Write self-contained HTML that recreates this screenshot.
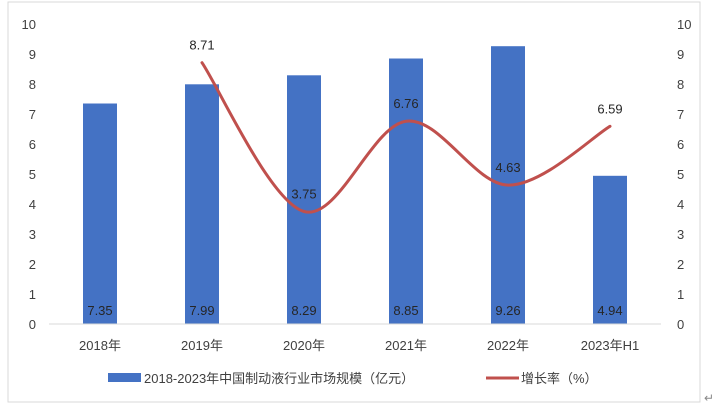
<!DOCTYPE html>
<html><head><meta charset="utf-8"><style>
body{margin:0;background:#fff;}
svg{display:block;font-family:"Liberation Sans","Noto Sans CJK SC",sans-serif;}
</style></head><body>
<svg id="chart" width="712" height="406">
<rect x="8" y="2" width="692" height="400" fill="#fff" stroke="#d9d9d9"/>
<g id="g"></g>
<text x="704" y="402" font-size="12" fill="#888">↵</text>
</svg>
<script>
const categories=["2018年","2019年","2020年","2021年","2022年","2023年H1"];
const marketSize=[7.35,7.99,8.29,8.85,9.26,4.94];
const growth=[null,8.71,3.75,6.76,4.63,6.59];
const ticks=[0,1,2,3,4,5,6,7,8,9,10];
const NS="http://www.w3.org/2000/svg";
const g=document.getElementById("g");
const x0=49,x1=661,yTop=24,yBot=324;
const bw=(x1-x0)/categories.length;
const xc=i=>x0+bw*(i+0.5);
const y=v=>yBot-(v/10)*(yBot-yTop);
function mk(t,a,txt){const e=document.createElementNS(NS,t);for(const k in a)e.setAttribute(k,a[k]);if(txt!==undefined)e.textContent=txt;g.appendChild(e);return e;}
ticks.forEach(t=>{
 let e=mk("text",{x:36,y:y(t)+5,"font-size":13,fill:"#404040","text-anchor":"end"},t);
 
 
 e=mk("text",{x:677,y:y(t)+5,"font-size":13,fill:"#404040"},t);
 
 
});
marketSize.forEach((v,i)=>{
 let e=mk("rect",{x:xc(i)-17,y:y(v),width:34,height:yBot-y(v),fill:"#4472c4"});
 
 
 e=mk("text",{x:xc(i),y:315,"font-size":13,fill:"#262626","text-anchor":"middle"},v.toFixed(2));
 
 
 e=mk("text",{x:xc(i),y:350,"font-size":13,fill:"#404040","text-anchor":"middle"},categories[i]);
 
 
});
let ax=mk("line",{x1:x0,x2:x1,y1:yBot,y2:yBot,stroke:"#d9d9d9"});


const pts=[];growth.forEach((v,i)=>{if(v!==null)pts.push([xc(i),y(v)]);});
let d="M"+pts[0][0]+","+pts[0][1];
for(let i=0;i<pts.length-1;i++){
 const p0=pts[i-1]||pts[i],p1=pts[i],p2=pts[i+1],p3=pts[i+2]||p2;
 const t=1/6;
 d+=` C${p1[0]+(p2[0]-p0[0])*t},${p1[1]+(p2[1]-p0[1])*t} ${p2[0]-(p3[0]-p1[0])*t},${p2[1]-(p3[1]-p1[1])*t} ${p2[0]},${p2[1]}`;
}
let ln=mk("path",{d:d,fill:"none",stroke:"#c0504d","stroke-width":3,"stroke-linecap":"round"});


growth.forEach((v,i)=>{if(v===null)return;
 const e=mk("text",{x:xc(i),y:y(v)-13,"font-size":13,fill:"#262626","text-anchor":"middle"},v.toFixed(2));
 
 
});
let l=mk("rect",{x:108,y:373,width:33,height:9,fill:"#4472c4"});


l=mk("text",{x:144,y:383,"font-size":13,fill:"#404040"},"2018-2023年中国制动液行业市场规模（亿元）");


l=mk("line",{x1:486,x2:519,y1:378,y2:378,stroke:"#c0504d","stroke-width":3});


l=mk("text",{x:521,y:383,"font-size":13,fill:"#404040"},"增长率（%）");


</script>
</body></html>
